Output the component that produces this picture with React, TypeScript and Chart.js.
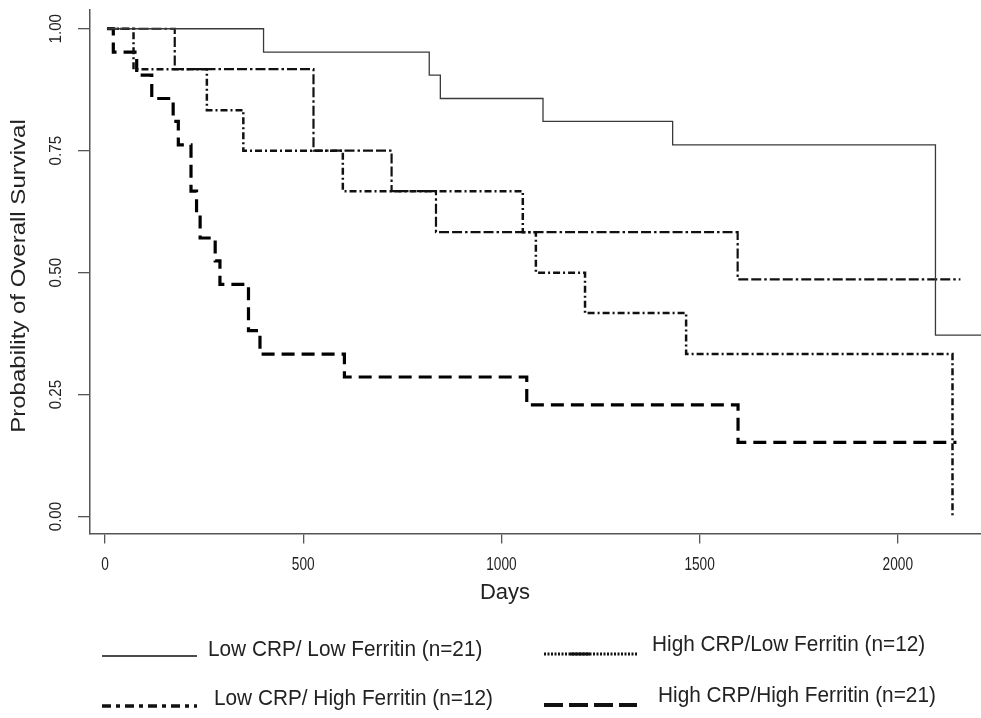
import React, { useEffect, useRef } from "react";
import { Chart, registerables } from "chart.js";

Chart.register(...registerables);

// ---- data (days, survival probability) ----
const seriesLabels = [
  "Low CRP/ Low Ferritin (n=21)",
  "High CRP/Low Ferritin (n=12)",
  "Low CRP/ High Ferritin (n=12)",
  "High CRP/High Ferritin (n=21)",
];

const lowLowDays = [5, 400, 818, 846, 1105, 1432, 2095, 2212];
const lowLowSurv = [1, 0.952, 0.905, 0.857, 0.81, 0.762, 0.372, 0.372];

const highLowDays = [5, 176, 526, 723, 835, 1596, 2158];
const highLowSurv = [1, 0.917, 0.75, 0.667, 0.583, 0.486, 0.486];

const lowHighDays = [5, 72, 257, 349, 600, 1054, 1087, 1211, 1466, 2138];
const lowHighSurv = [1, 0.917, 0.833, 0.75, 0.667, 0.583, 0.5, 0.417, 0.333, 0];

const highHighDays = [5, 21, 80, 118, 172, 185, 217, 231, 240, 278, 290, 362, 391, 604, 1064, 1597, 2148];
const highHighSurv = [1, 0.952, 0.905, 0.857, 0.81, 0.762, 0.667, 0.619, 0.571, 0.524, 0.476, 0.381, 0.333, 0.286, 0.229, 0.152, 0.152];

const xTicks = [0, 500, 1000, 1500, 2000];
const yTicks = [0, 0.25, 0.5, 0.75, 1];
const xTitle = "Days";
const yTitle = "Probability of Overall Survival";

const toPoints = (xs: number[], ys: number[]) => xs.map((x, i) => ({ x, y: ys[i] }));

const SANS = "'Liberation Sans', Arial, sans-serif";

function drawText(
  ctx: CanvasRenderingContext2D,
  text: string,
  x: number,
  y: number,
  size: number,
  opts: { sx?: number; sy?: number; rot?: number; align?: CanvasTextAlign } = {}
) {
  ctx.save();
  ctx.translate(x, y);
  if (opts.rot) ctx.rotate(opts.rot);
  ctx.scale(opts.sx ?? 1, opts.sy ?? 1);
  ctx.font = `${size}px ${SANS}`;
  ctx.textAlign = opts.align ?? "center";
  ctx.textBaseline = "middle";
  ctx.fillText(text, 0, 0);
  ctx.restore();
}

const textPlugin = {
  id: "customText",
  afterDraw(chart: any) {
    const ctx: CanvasRenderingContext2D = chart.ctx;
    const xs = chart.scales.x;
    const ys = chart.scales.y;
    ctx.save();
    ctx.fillStyle = "#222";

    // y tick labels (rotated)
    yTicks.forEach((v) => {
      drawText(ctx, v.toFixed(2), 56, ys.getPixelForValue(v), 16, { rot: -Math.PI / 2, sx: 0.95, sy: 1.05 });
    });

    // x tick labels (condensed)
    xTicks.forEach((v) => {
      drawText(ctx, String(v), xs.getPixelForValue(v), 565, 19, { sx: 0.72 });
    });

    // axis titles
    drawText(ctx, xTitle, 505, 593, 22);
    drawText(ctx, yTitle, 19, 276, 20, { rot: -Math.PI / 2, sx: 1.2 });

    // legend samples
    const drawSample = (x1: number, x2: number, y: number, w: number, dash: number[]) => {
      ctx.save();
      ctx.strokeStyle = "#111";
      ctx.lineWidth = w;
      ctx.lineCap = "butt";
      ctx.setLineDash(dash);
      ctx.beginPath();
      ctx.moveTo(x1, y);
      ctx.lineTo(x2, y);
      ctx.stroke();
      ctx.restore();
    };
    drawSample(102, 197, 656, 1.6, []);
    drawSample(544, 637, 654, 3, [2, 1.5]);
    drawSample(570, 590, 654, 3, []);
    drawSample(102, 197, 706, 3.5, [9, 5, 4, 5]);
    drawSample(544, 637, 705, 4, [19, 6]);

    // legend labels
    drawText(ctx, seriesLabels[0], 208, 650, 21, { align: "left", sx: 0.99, sy: 1.05 });
    drawText(ctx, seriesLabels[1], 652, 645, 21, { align: "left", sx: 0.99, sy: 1.05 });
    drawText(ctx, seriesLabels[2], 214, 699, 21, { align: "left", sx: 0.99, sy: 1.05 });
    drawText(ctx, seriesLabels[3], 658, 696, 21, { align: "left", sx: 0.99, sy: 1.05 });
    ctx.restore();
  },
};

export default function App() {
  const ref = useRef<HTMLCanvasElement | null>(null);

  useEffect(() => {
    if (!ref.current) return;
    const common = { stepped: "before" as const, pointRadius: 0, fill: false, tension: 0, borderCapStyle: "butt" as const };
    const chart = new Chart(ref.current, {
      type: "line",
      data: {
        datasets: [
          { ...common, label: seriesLabels[0], data: toPoints(lowLowDays, lowLowSurv), borderColor: "#3a3a3a", borderWidth: 1.3, borderDash: [] },
          { ...common, label: seriesLabels[1], data: toPoints(highLowDays, highLowSurv), borderColor: "#111", borderWidth: 2.2, borderDash: [10, 3, 10, 3, 2.5, 3] },
          { ...common, label: seriesLabels[2], data: toPoints(lowHighDays, lowHighSurv), borderColor: "#111", borderWidth: 2.5, borderDash: [7, 3, 2, 3] },
          { ...common, label: seriesLabels[3], data: toPoints(highHighDays, highHighSurv), borderColor: "#000", borderWidth: 3.2, borderDash: [13, 7] },
        ],
      },
      options: {
        animation: false,
        responsive: false,
        maintainAspectRatio: false,
        layout: { padding: { top: 10, left: 0, right: 0, bottom: 0 } },
        plugins: { legend: { display: false }, tooltip: { enabled: false }, title: { display: false } },
        scales: {
          x: {
            type: "linear",
            min: -37.8,
            max: 2209.9,
            afterBuildTicks: (s: any) => {
              s.ticks = xTicks.map((v) => ({ value: v }));
            },
            afterFit: (s: any) => {
              s.height = 184.5;
            },
            grid: { drawOnChartArea: false, drawTicks: true, tickLength: 10, color: "#555", lineWidth: 1.3 },
            border: { display: true, color: "#555", width: 1.5 },
            ticks: { color: "rgba(0,0,0,0)", autoSkip: false, maxRotation: 0 },
          },
          y: {
            type: "linear",
            min: -0.0348,
            max: 1.038,
            afterBuildTicks: (s: any) => {
              s.ticks = yTicks.map((v) => ({ value: v }));
            },
            afterFit: (s: any) => {
              s.width = 90;
            },
            grid: { drawOnChartArea: false, drawTicks: true, tickLength: 12, color: "#555", lineWidth: 1.3 },
            border: { display: true, color: "#555", width: 1.5 },
            ticks: { color: "rgba(0,0,0,0)", autoSkip: false },
          },
        },
      },
      plugins: [textPlugin],
    });
    return () => chart.destroy();
  }, []);

  return (
    <div style={{ position: "fixed", left: 0, top: 0, width: 981, height: 718, background: "#fff" }}>
      <canvas ref={ref} width={981} height={718} style={{ width: 981, height: 718, display: "block" }} />
    </div>
  );
}
